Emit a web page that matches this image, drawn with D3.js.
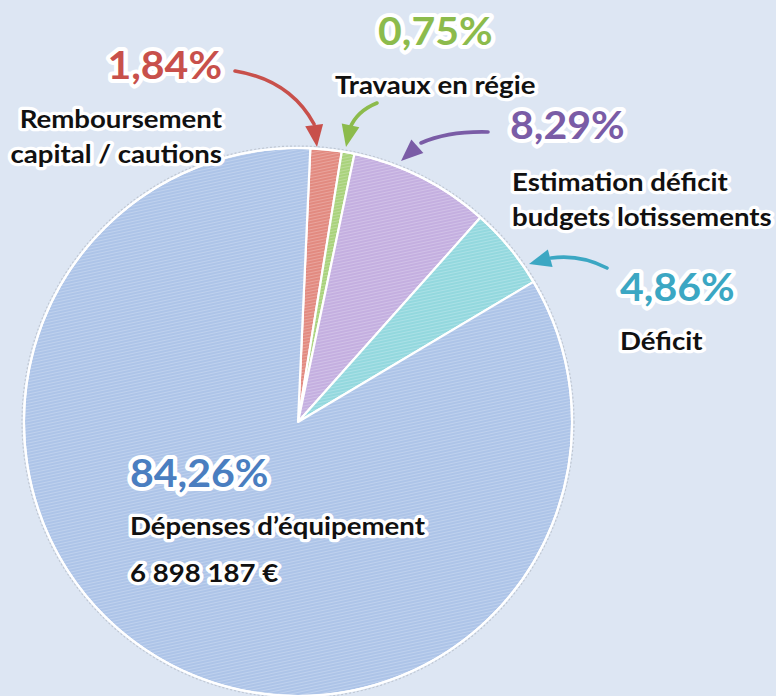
<!DOCTYPE html>
<html><head><meta charset="utf-8">
<script src="https://cdn.jsdelivr.net/npm/d3@7"></script>
<style>
html,body{margin:0;padding:0;background:#dde6f3;}
svg{display:block;}
text{font-family:Lato,"Open Sans",sans-serif;font-weight:700;paint-order:stroke;stroke:#fff;stroke-linejoin:round;}
</style></head>
<body>
<svg id="chart" width="776" height="696"></svg>
<script>
// ---- data ----
const categories = ["Remboursement capital / cautions", "Travaux en régie", "Estimation déficit budgets lotissements", "Déficit", "Dépenses d’équipement"];
const values = [1.84, 0.75, 8.29, 4.86, 84.26];
const percentLabels = ["1,84%", "0,75%", "8,29%", "4,86%", "84,26%"];
const nameLines = [["Remboursement", "capital / cautions"], ["Travaux en régie"], ["Estimation déficit", "budgets lotissements"], ["Déficit"], ["Dépenses d’équipement", "6 898 187 €"]];

// ---- style / layout ----
const W = 776, H = 696;
const fills = ["#e28a80", "#a9d27c", "#c4afe0", "#93d8de", "#adc4e8"];
const textColors = ["#c8504b", "#8cbb4c", "#7a5ca6", "#3ba7c3", "#4a7ec0"];
const cx = 298, cy = 422, R = 274;
const startOffset = 0.045;

const layout = [
  {anchor:"end", px:222, py:79, lx:222, ly:[128,163], arrow:{s:[235,71], c:[290,80], e:[314,124], t:[317,147]}},
  {anchor:"start", px:378, py:45, lx:335, ly:[94], arrow:{s:[377,103], c:[357,111], e:[350,128], t:[346,147]}},
  {anchor:"start", px:510, py:139, lx:512, ly:[191,226], arrow:{s:[488,132], c:[448,131], e:[421,143], t:[401,161]}},
  {anchor:"start", px:620, py:301, lx:620, ly:[350], arrow:{s:[607,268], c:[580,254], e:[551,258], t:[529,264]}},
  {anchor:"start", px:130, py:487, lx:130, ly:[535,582], arrow:null}
];

const svg = d3.select("#chart");
svg.append("rect").attr("width", W).attr("height", H).attr("fill", "#dde6f3").attr("stroke", "none");

const defs = svg.append("defs");
const pat = defs.append("pattern").attr("id", "tex").attr("patternUnits", "userSpaceOnUse")
  .attr("width", 4).attr("height", 3).attr("patternTransform", "rotate(-12)");
pat.append("rect").attr("width", 4).attr("height", 1).attr("fill", "#ffffff").attr("opacity", 0.22);

const pie = d3.pie().sort(null).value(d => d)
  .startAngle(startOffset).endAngle(startOffset + 2 * Math.PI);
const arcs = pie(values);
const arc = d3.arc().innerRadius(0).outerRadius(R);

const g = svg.append("g").attr("transform", `translate(${cx},${cy})`);
g.append("circle").attr("r", R + 2).attr("fill", "none").attr("stroke", "#b8bfca")
  .attr("stroke-width", 1.2).attr("stroke-dasharray", "2 2").attr("opacity", 0.8);
g.selectAll("path.slice").data(arcs).join("path").attr("class", "slice")
  .attr("d", arc).attr("fill", (d, i) => fills[i]).attr("stroke", "#ffffff")
  .attr("stroke-width", 2.2).attr("stroke-linejoin", "round");
g.selectAll("path.tex").data(arcs).join("path").attr("class", "tex")
  .attr("d", arc).attr("fill", "url(#tex)").attr("stroke", "none");
g.append("circle").attr("r", R).attr("fill", "none").attr("stroke", "#ffffff").attr("stroke-width", 2);

// arrows
layout.forEach((L, i) => {
  if (!L.arrow) return;
  const a = L.arrow;
  svg.append("path").attr("d", `M${a.s[0]},${a.s[1]} Q${a.c[0]},${a.c[1]} ${a.e[0]},${a.e[1]}`)
    .attr("fill", "none").attr("stroke", textColors[i]).attr("stroke-width", 3.6).attr("stroke-linecap", "round");
  const dx = a.t[0] - a.e[0], dy = a.t[1] - a.e[1];
  const len = Math.hypot(dx, dy), ux = dx / len, uy = dy / len;
  const hw = 9;
  const bx = a.t[0] - ux * 22, by = a.t[1] - uy * 22;
  svg.append("path").attr("d", `M${a.t[0]},${a.t[1]} L${bx - uy * hw},${by + ux * hw} L${bx + uy * hw},${by - ux * hw} Z`)
    .attr("fill", textColors[i]).attr("stroke", "none");
});

// labels (horizontally widened like the reference lettering)
const pctScale = 1.08, lblScale = 1.15;
layout.forEach((L, i) => {
  svg.append("text").attr("transform", `translate(${L.px},${L.py}) scale(${pctScale},1)`)
    .attr("text-anchor", L.anchor)
    .attr("fill", textColors[i]).attr("stroke-width", 8).attr("font-size", 38)
    .attr("font-weight", 900).text(percentLabels[i]);
  nameLines[i].forEach((line, j) => {
    svg.append("text").attr("transform", `translate(${L.lx},${L.ly[j]}) scale(${lblScale},1)`)
      .attr("text-anchor", L.anchor)
      .attr("fill", "#111111").attr("stroke-width", 6.5).attr("font-size", 24).text(line);
  });
});
</script>
</body></html>
